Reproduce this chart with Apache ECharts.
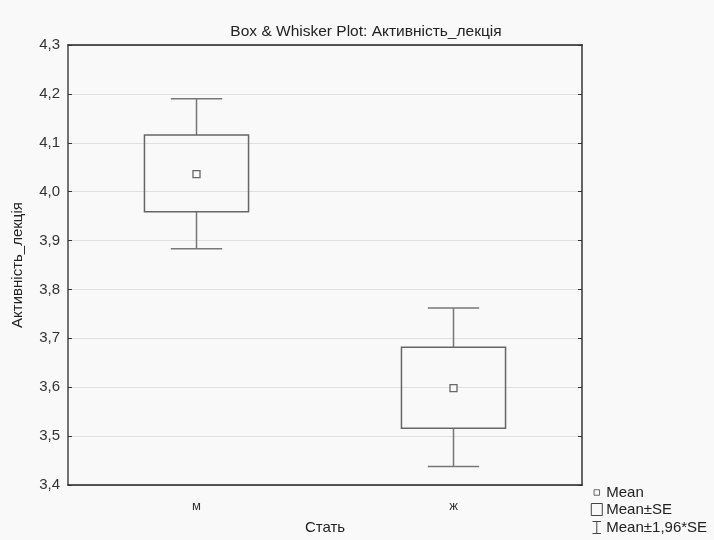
<!DOCTYPE html>
<html>
<head>
<meta charset="utf-8">
<script src="https://cdn.jsdelivr.net/npm/echarts@6/dist/echarts.min.js"></script>
<style>
html,body{margin:0;padding:0;background:#f9f9f9;}
#chart{width:714px;height:540px;}
</style>
</head>
<body>
<div id="chart"></div>
<script>
const categories = ['м', 'ж'];
const means = [4.036, 3.598];
const seLow = [3.959, 3.516];
const seHigh = [4.116, 3.682];
const ciLow = [3.883, 3.438];
const ciHigh = [4.190, 3.762];

const FONT = 'Liberation Sans, Arial, sans-serif';
const chart = echarts.init(document.getElementById('chart'));

const boxData = categories.map((c, i) => [i, seLow[i], seHigh[i]]);
const whiskerData = categories.map((c, i) => [i, ciLow[i], seLow[i], seHigh[i], ciHigh[i]]);
const meanData = categories.map((c, i) => [c, means[i]]);

const option = {
  backgroundColor: '#f9f9f9',
  animation: false,
  title: {
    text: 'Box & Whisker Plot: Активність_лекція',
    left: 361, top: 19, textAlign: 'center',
    textStyle: {fontFamily: FONT, fontSize: 15.5, fontWeight: 'normal', color: '#222'}
  },
  legend: {
    orient: 'vertical', left: 590, top: 485, padding: 0,
    itemWidth: 11, itemHeight: 12, itemGap: 2,
    textStyle: {fontFamily: FONT, fontSize: 15, color: '#222', lineHeight: 15, padding: [0,0,0,-1]},
    data: [
      {name: 'Mean', icon: 'path://M0,0M12,12M3,3L9,3L9,9L3,9Z',
        itemStyle: {color: '#f9f9f9', borderColor: '#444', borderWidth: 1}},
      {name: 'Mean±SE', icon: 'rect',
        itemStyle: {color: '#f9f9f9', borderColor: '#444', borderWidth: 1}},
      {name: 'Mean±1,96*SE', icon: 'path://M0,0L10,0M5,0L5,14M0,14L10,14',
        itemStyle: {color: 'none', borderColor: '#444', borderWidth: 1}}
    ]
  },
  grid: {left: 68, right: 132, top: 45, bottom: 52, show: false},
  xAxis: [{
    type: 'category', data: categories, position: 'bottom',
    axisLine: {lineStyle: {color: '#222', width: 1.5}},
    axisTick: {inside: true, alignWithLabel: true, length: 4, lineStyle: {color: '#333'}},
    axisLabel: {fontFamily: FONT, fontSize: 13, color: '#333', margin: 15},
    name: 'Стать', nameLocation: 'middle', nameGap: 35,
    nameTextStyle: {fontFamily: FONT, fontSize: 15, color: '#222'}
  }, {
    type: 'category', data: categories, position: 'top',
    axisLine: {lineStyle: {color: '#222', width: 1.5}},
    axisTick: {inside: true, alignWithLabel: true, length: 4, lineStyle: {color: '#333'}},
    axisLabel: {show: false}
  }],
  yAxis: [{
    type: 'value', min: 3.4, max: 4.3, interval: 0.1,
    axisLine: {show: true, lineStyle: {color: '#444', width: 1.5}},
    axisTick: {show: true, inside: true, length: 4, lineStyle: {color: '#333'}},
    splitLine: {show: true, lineStyle: {color: '#e0e0e0', width: 1}},
    axisLabel: {fontFamily: FONT, fontSize: 15, color: '#333', margin: 8,
      formatter: v => v.toFixed(1).replace('.', ',')},
    name: 'Активність_лекція', nameLocation: 'middle', nameGap: 43,
    nameTextStyle: {fontFamily: FONT, fontSize: 15, color: '#222'}
  }, {
    type: 'value', min: 3.4, max: 4.3, interval: 0.1, position: 'right',
    axisLine: {show: true, lineStyle: {color: '#666', width: 2}},
    axisTick: {show: true, inside: true, length: 4, lineStyle: {color: '#333'}},
    splitLine: {show: false},
    axisLabel: {show: false}
  }],
  series: [{
    name: 'Mean±1,96*SE', type: 'custom', xAxisIndex: 0, yAxisIndex: 0,
    data: whiskerData, encode: {x: 0, y: [1, 4]},
    itemStyle: {color: '#707070'},
    renderItem: function (params, api) {
      const i = api.value(0);
      const pLow = api.coord([i, api.value(1)]);
      const pSeLow = api.coord([i, api.value(2)]);
      const pSeHigh = api.coord([i, api.value(3)]);
      const pHigh = api.coord([i, api.value(4)]);
      const cw = api.size([1, 0])[0] * 0.2;
      const st = {stroke: '#777', lineWidth: 1.5};
      return {type: 'group', children: [
        {type: 'line', shape: {x1: pHigh[0], y1: pHigh[1], x2: pSeHigh[0], y2: pSeHigh[1]}, style: st},
        {type: 'line', shape: {x1: pSeLow[0], y1: pSeLow[1], x2: pLow[0], y2: pLow[1]}, style: st},
        {type: 'line', shape: {x1: pHigh[0] - cw / 2, y1: pHigh[1], x2: pHigh[0] + cw / 2, y2: pHigh[1]}, style: st},
        {type: 'line', shape: {x1: pLow[0] - cw / 2, y1: pLow[1], x2: pLow[0] + cw / 2, y2: pLow[1]}, style: st}
      ]};
    }
  }, {
    name: 'Mean±SE', type: 'custom', xAxisIndex: 0, yAxisIndex: 0,
    data: boxData, encode: {x: 0, y: [1, 2]},
    itemStyle: {color: '#666'},
    renderItem: function (params, api) {
      const i = api.value(0);
      const top = api.coord([i, api.value(2)]);
      const bot = api.coord([i, api.value(1)]);
      const w = api.size([1, 0])[0] * 0.405;
      return {type: 'rect', shape: {x: top[0] - w / 2, y: top[1], width: w, height: bot[1] - top[1]},
        style: {fill: 'none', stroke: '#666', lineWidth: 1.5}};
    }
  }, {
    name: 'Mean', type: 'scatter', xAxisIndex: 0, yAxisIndex: 0,
    data: meanData, symbol: 'rect', symbolSize: 7,
    itemStyle: {color: '#f9f9f9', borderColor: '#444', borderWidth: 1.3},
    z: 5
  }]
};
chart.setOption(option);
</script>
</body>
</html>
